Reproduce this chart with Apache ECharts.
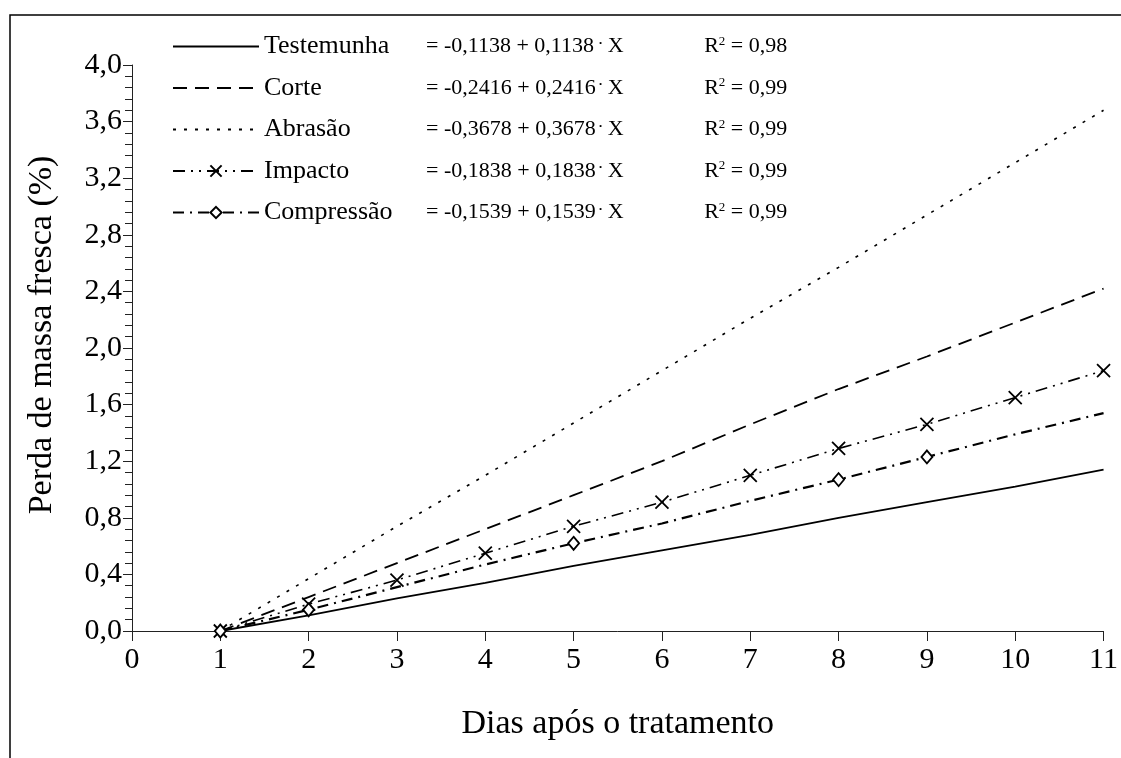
<!DOCTYPE html>
<html>
<head>
<meta charset="utf-8">
<script src="https://cdn.jsdelivr.net/npm/echarts@6/dist/echarts.min.js"></script>
<style>
html,body{margin:0;padding:0;background:#fff;}
#c{width:1121px;height:758px;}
</style>
</head>
<body>
<div id="c"></div>
<script>
// ---- data ----
const days = [1, 2, 3, 4, 5, 6, 7, 8, 9, 10, 11];
const seriesNames = ['Testemunha', 'Corte', 'Abrasão', 'Impacto', 'Compressão'];
const testemunha = [0, 0.11, 0.23, 0.34, 0.46, 0.57, 0.68, 0.80, 0.91, 1.02, 1.14];
const corte      = [0, 0.24, 0.48, 0.72, 0.96, 1.20, 1.46, 1.71, 1.94, 2.18, 2.42];
const abrasao    = [0, 0.37, 0.74, 1.10, 1.47, 1.84, 2.21, 2.57, 2.94, 3.31, 3.68];
const impacto    = [0, 0.19, 0.36, 0.55, 0.74, 0.91, 1.10, 1.29, 1.46, 1.65, 1.84];
const compressao = [0, 0.15, 0.31, 0.47, 0.62, 0.76, 0.92, 1.07, 1.23, 1.39, 1.54];
const equations = ['= -0,1138 + 0,1138', '= -0,2416 + 0,2416', '= -0,3678 + 0,3678', '= -0,1838 + 0,1838', '= -0,1539 + 0,1539'];
const r2Values = ['0,98', '0,99', '0,99', '0,99', '0,99'];
const xTitle = 'Dias após o tratamento';
const yTitle = 'Perda de massa fresca (%)';

// ---- styles ----
const FONT = '"Liberation Serif", "Times New Roman", serif';
const crossPath = 'path://M0,0L10,10M10,0L0,10';
const barPath = 'path://M0,0L0,10';
const compDiamondIdx = [0, 1, 4, 7, 8];

function pairs(vals) { return days.map((d, i) => [d, vals[i]]); }
function compItems(vals) {
  return days.map((d, i) => compDiamondIdx.indexOf(i) >= 0
    ? { value: [d, vals[i]] }
    : { value: [d, vals[i]], symbol: barPath, symbolSize: [2, 12] });
}

const eqMap = {};
seriesNames.forEach((n, i) => { eqMap[n] = i; });
const hiddenSym = { color: 'rgba(0,0,0,0)', borderColor: 'rgba(0,0,0,0)', borderWidth: 0 };

const chart = echarts.init(document.getElementById('c'), null, { renderer: 'canvas' });
const option = {
  backgroundColor: '#fff',
  animation: false,
  textStyle: { fontFamily: FONT, color: '#000' },
  grid: { left: 132, right: 17, top: 65, bottom: 127, containLabel: false },
  graphic: [{
    type: 'rect', shape: { x: 10, y: 15, width: 1200, height: 800 },
    style: { fill: 'none', stroke: '#000', lineWidth: 1.5 }, silent: true, z: -1
  }],
  legend: {
    orient: 'vertical', left: 167, top: 28,
    itemWidth: 86, itemHeight: 14, itemGap: 15,
    data: [
      { name: seriesNames[0], itemStyle: hiddenSym },
      { name: seriesNames[1], itemStyle: hiddenSym },
      { name: seriesNames[2], itemStyle: hiddenSym },
      { name: seriesNames[3] },
      { name: seriesNames[4] }
    ],
    selectedMode: false,
    formatter: function (name) {
      const i = eqMap[name];
      return '{n|' + name + '}{e|' + equations[i] + '}{s|•}{x| X}{r|R}{p|2}{r| = ' + r2Values[i] + '}';
    },
    textStyle: {
      fontFamily: FONT, color: '#000', fontSize: 26,
      rich: {
        n: { fontFamily: FONT, fontSize: 26, width: 162, color: '#000', lineHeight: 27 },
        e: { fontFamily: FONT, fontSize: 22, width: 173, color: '#000', lineHeight: 27 },
        s: { fontFamily: FONT, fontSize: 9, color: '#000', verticalAlign: 'top', lineHeight: 27, padding: [6, 0, 0, 0] },
        x: { fontFamily: FONT, fontSize: 22, width: 102, color: '#000', lineHeight: 27 },
        r: { fontFamily: FONT, fontSize: 22, color: '#000', lineHeight: 27 },
        p: { fontFamily: FONT, fontSize: 13, color: '#000', verticalAlign: 'top', lineHeight: 27, padding: [2, 0, 0, 0] }
      }
    }
  },
  xAxis: {
    type: 'value', min: 0, max: 11, interval: 1,
    name: xTitle, nameLocation: 'middle', nameGap: 76,
    nameTextStyle: { fontFamily: FONT, fontSize: 34, color: '#000' },
    axisLine: { onZero: false, lineStyle: { color: '#222', width: 1 } },
    axisTick: { show: true, length: 10, lineStyle: { color: '#222' } },
    axisLabel: { fontFamily: FONT, fontSize: 30, color: '#000', margin: 14 },
    splitLine: { show: false }
  },
  yAxis: {
    type: 'value', min: 0, max: 4, interval: 0.4,
    name: yTitle, nameLocation: 'middle', nameGap: 73,
    nameTextStyle: { fontFamily: FONT, fontSize: 34, color: '#000', padding: [0, 0, 0, 26] },
    axisLine: { show: true, lineStyle: { color: '#222', width: 1 } },
    axisTick: { show: true, length: 9, lineStyle: { color: '#222' } },
    minorTick: { show: true, splitNumber: 5, length: 7, lineStyle: { color: '#222' } },
    axisLabel: {
      fontFamily: FONT, fontSize: 30, color: '#000', margin: 10,
      formatter: v => v.toFixed(1).replace('.', ',')
    },
    splitLine: { show: false }
  },
  series: [
    {
      name: seriesNames[0], type: 'line', data: pairs(testemunha), symbol: 'circle', showSymbol: false,
      lineStyle: { color: '#000', width: 1.8, type: 'solid' }, itemStyle: { color: '#000' }
    },
    {
      name: seriesNames[1], type: 'line', data: pairs(corte), symbol: 'circle', showSymbol: false,
      lineStyle: { color: '#000', width: 1.8, type: [14, 8] }, itemStyle: { color: '#000' }
    },
    {
      name: seriesNames[2], type: 'line', data: pairs(abrasao), symbol: 'circle', showSymbol: false,
      lineStyle: { color: '#000', width: 1.6, type: [3, 8] }, itemStyle: { color: '#000' }
    },
    {
      name: seriesNames[3], type: 'line', data: pairs(impacto),
      symbol: crossPath, symbolSize: 13, showAllSymbol: true,
      lineStyle: { color: '#000', width: 1.6, type: [12, 6, 2, 6, 2, 6] },
      itemStyle: { color: 'rgba(0,0,0,0)', borderColor: '#000', borderWidth: 1.8 }
    },
    {
      name: seriesNames[4], type: 'line', data: compItems(compressao),
      symbol: 'diamond', symbolSize: [11, 13], showAllSymbol: true,
      lineStyle: { color: '#000', width: 2.2, type: [11, 6, 2, 6] },
      itemStyle: { color: '#fff', borderColor: '#000', borderWidth: 1.8 }
    }
  ]
};
chart.setOption(option);
</script>
</body>
</html>
